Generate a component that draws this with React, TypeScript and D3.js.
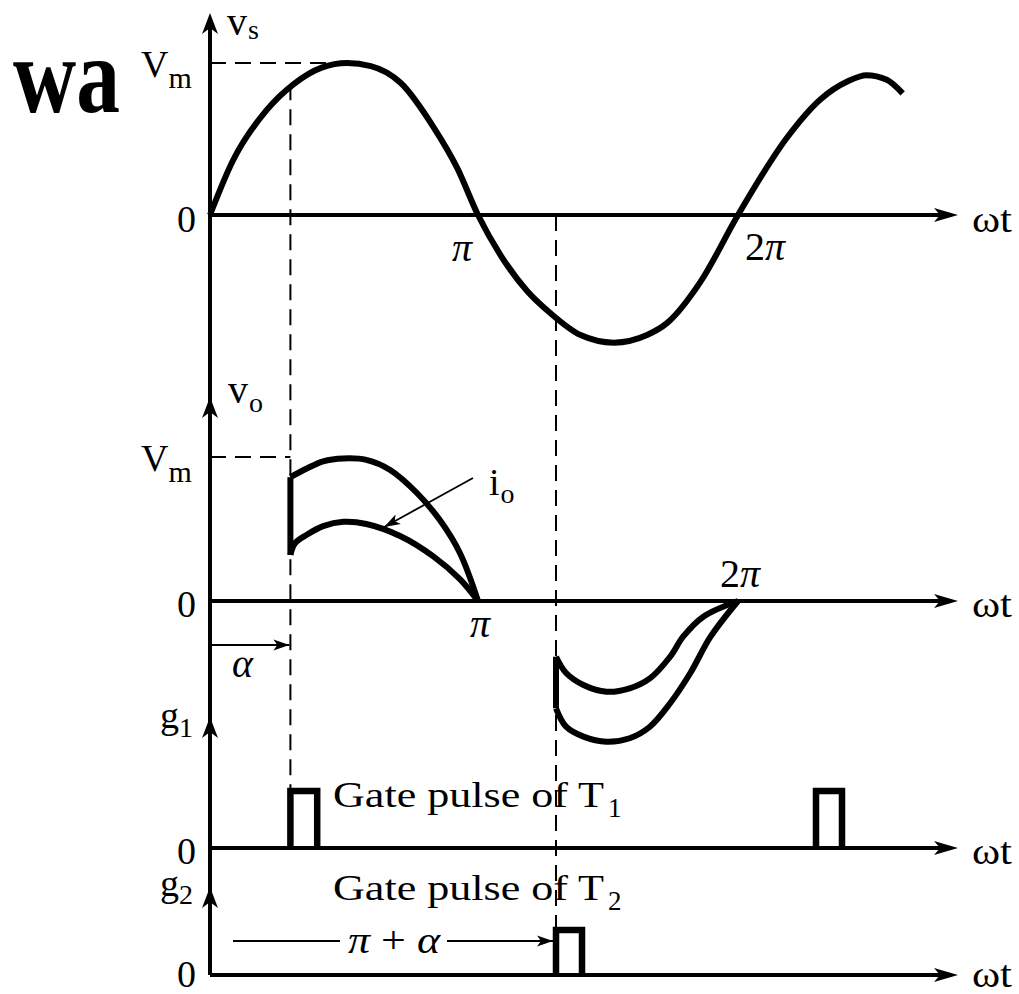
import React from "react";
import * as d3 from "d3";

const W = 1019;
const H = 994;

// firing angle α and gate pulse width, in degrees of ωt
const ALPHA = 54;
const PULSE_WIDTH = 18;

// supply voltage v_s (per unit of Vm) against ωt in degrees
const VS_ANGLE = [0, 15, 38, 56, 75, 92, 108, 128, 150, 166, 180, 196, 214, 230, 251, 274, 297, 311, 334, 360, 394, 417, 436, 449, 463, 474];
const VS_VALUE = [0, 0.35, 0.69, 0.86, 0.97, 1.0, 0.98, 0.87, 0.58, 0.31, 0, -0.27, -0.5, -0.645, -0.79, -0.84, -0.79, -0.71, -0.44, 0, 0.51, 0.76, 0.88, 0.92, 0.89, 0.8];

// output voltage v_o and load current i_o, positive half cycle
const VO_POS_ANGLE = [ALPHA, 65, 76, 89.5, 105, 121, 139, 154.5, 168, 180];
const VO_POS_VALUE = [0.86, 0.92, 0.97, 0.99, 0.98, 0.91, 0.75, 0.56, 0.33, 0];
const IO_POS_ANGLE = [ALPHA, 57, 65, 76, 89.5, 105, 128, 150, 168, 180];
const IO_POS_VALUE = [0.32, 0.4, 0.46, 0.52, 0.55, 0.535, 0.45, 0.31, 0.15, 0];

// output voltage v_o and load current i_o, negative half cycle
const VO_NEG_ANGLE = [180 + ALPHA, 241, 253, 269, 285, 299, 313, 327, 341, 360];
const VO_NEG_VALUE = [-0.745, -0.873, -0.942, -0.977, -0.953, -0.873, -0.71, -0.5, -0.248, 0];
const IO_NEG_ANGLE = [180 + ALPHA, 241, 253, 269, 285, 299, 313, 322, 336, 360];
const IO_NEG_VALUE = [-0.387, -0.5, -0.583, -0.63, -0.606, -0.537, -0.387, -0.248, -0.109, 0];

// gate firing instants
const G1_FIRING = [ALPHA, 360 + ALPHA];
const G2_FIRING = [180 + ALPHA];

// marked angles on the ωt axes
const TICK_ANGLE = [180, 360];
const TICK_LABEL = ["π", "2π"];

// point on i_o the label arrow points at
const IO_POINTER = [117, 0.5];

const SERIF = "'Liberation Serif', 'Times New Roman', serif";
const AXIS_X0 = 210;
const AXIS_END = 958;

const xS = d3.scaleLinear().domain([0, 180, 360]).range([210, 478, 738]);
const yTop = d3.scaleLinear().domain([0, 1]).range([215, 63]);
const yMid = d3.scaleLinear().domain([0, 1]).range([601, 457]);
const yG1 = d3.scaleLinear().domain([0, 1]).range([848, 791]);
const yG2 = d3.scaleLinear().domain([0, 1]).range([975, 930]);

const zip = (a: number[], b: number[]) => a.map((v, i) => [v, b[i]] as [number, number]);

function curvePath(
  angles: number[],
  values: number[],
  y: d3.ScaleLinear<number, number>,
  curve: d3.CurveFactory = d3.curveCatmullRom.alpha(0.5)
) {
  const line = d3
    .line<[number, number]>()
    .x((d) => xS(d[0]))
    .y((d) => y(d[1]))
    .curve(curve);
  return line(zip(angles, values)) || "";
}

function pulsePath(a: number, y: d3.ScaleLinear<number, number>) {
  const x0 = xS(a);
  const x1 = xS(a + PULSE_WIDTH);
  return `M${x0},${y(0)} V${y(1)} H${x1} V${y(0)}`;
}

const upHead = (x: number, y: number) =>
  `M${x},${y} L${x - 8},${y + 21} L${x},${y + 15} L${x + 8},${y + 21} Z`;
const rightHead = (x: number, y: number) =>
  `M${x},${y} L${x - 24},${y - 7} L${x - 18},${y} L${x - 24},${y + 7} Z`;

function SmallArrow({ x1, y1, x2, y2 }: { x1: number; y1: number; x2: number; y2: number }) {
  const deg = (Math.atan2(y2 - y1, x2 - x1) * 180) / Math.PI;
  return (
    <g>
      <line x1={x1} y1={y1} x2={x2} y2={y2} stroke="#000" strokeWidth={1.8} />
      <path d="M0,0 L-16,-5.5 L-12,0 L-16,5.5 Z" fill="#000" transform={`translate(${x2},${y2}) rotate(${deg})`} />
    </g>
  );
}

function Sub({ x, y, main, sub, size = 38, subSize = 28, subDx = 0, subDy = 10, len }: any) {
  return (
    <text x={x} y={y} fontFamily={SERIF} fontSize={size} fill="#000">
      <tspan textLength={len} lengthAdjust={len ? "spacingAndGlyphs" : undefined}>{main}</tspan>
      <tspan fontSize={subSize} dx={subDx} dy={subDy}>{sub}</tspan>
    </text>
  );
}

function HAxis({ y0, dy = 16 }: { y0: number; dy?: number }) {
  return (
    <g>
      <line x1={AXIS_X0} y1={y0} x2={AXIS_END - 10} y2={y0} stroke="#000" strokeWidth={4} />
      <path d={rightHead(AXIS_END, y0)} fill="#000" />
      <text x={972} y={y0 + dy} fontFamily={SERIF} fontSize={38} textLength={40} lengthAdjust="spacingAndGlyphs">ωt</text>
      <text x={196} y={y0 + dy} fontFamily={SERIF} fontSize={38} textAnchor="end">0</text>
    </g>
  );
}

export default function App() {
  const dash = { stroke: "#000", strokeWidth: 2, strokeDasharray: "16 9", fill: "none" };
  const curve = { stroke: "#000", strokeWidth: 6, fill: "none", strokeLinejoin: "round" as const };
  const xa = xS(ALPHA);
  const xpa = xS(180 + ALPHA);

  return (
    <svg width={W} height={H} style={{ position: "absolute", left: 0, top: 0, background: "#fff" }}>
      <rect width={W} height={H} fill="#fff" />

      {/* cropped heading, condensed */}
      <text transform="translate(13,112) scale(0.81,1)" fontFamily={SERIF} fontWeight="bold" fontSize={108}>wa</text>

      {/* common vertical axis with arrowheads for each trace */}
      <line x1={AXIS_X0} y1={20} x2={AXIS_X0} y2={yG2(0)} stroke="#000" strokeWidth={4} />
      <path d={upHead(AXIS_X0, 13)} fill="#000" />
      <path d={upHead(AXIS_X0, 397)} fill="#000" />
      <path d={upHead(AXIS_X0, 717)} fill="#000" />
      <path d={upHead(AXIS_X0, 887)} fill="#000" />

      {/* guide lines */}
      <line x1={AXIS_X0} y1={yTop(1)} x2={xS(82)} y2={yTop(1)} {...dash} />
      <line x1={AXIS_X0} y1={yMid(1)} x2={xa} y2={yMid(1)} {...dash} />
      <line x1={xa} y1={yTop(0.86)} x2={xa} y2={yG1(1)} {...dash} />
      <line x1={xpa} y1={yTop(0)} x2={xpa} y2={yG2(1)} {...dash} />

      {/* horizontal axes */}
      <HAxis y0={yTop(0)} dy={17} />
      <HAxis y0={yMid(0)} />
      <HAxis y0={yG1(0)} />
      <HAxis y0={yG2(0)} dy={12} />

      {/* supply voltage */}
      <path d={curvePath(VS_ANGLE, VS_VALUE, yTop, d3.curveMonotoneX)} {...curve} />

      {/* output voltage and current */}
      <path d={curvePath(VO_POS_ANGLE, VO_POS_VALUE, yMid)} {...curve} />
      <path d={curvePath(IO_POS_ANGLE, IO_POS_VALUE, yMid)} {...curve} />
      <line x1={xa} y1={yMid(IO_POS_VALUE[0])} x2={xa} y2={yMid(VO_POS_VALUE[0])} stroke="#000" strokeWidth={6} />
      <path d={curvePath(VO_NEG_ANGLE, VO_NEG_VALUE, yMid)} {...curve} />
      <path d={curvePath(IO_NEG_ANGLE, IO_NEG_VALUE, yMid)} {...curve} />
      <line x1={xpa} y1={yMid(IO_NEG_VALUE[0])} x2={xpa} y2={yMid(VO_NEG_VALUE[0])} stroke="#000" strokeWidth={6} />

      {/* gate pulses */}
      {G1_FIRING.map((a) => (
        <path key={`g1-${a}`} d={pulsePath(a, yG1)} stroke="#000" strokeWidth={6.5} fill="none" />
      ))}
      {G2_FIRING.map((a) => (
        <path key={`g2-${a}`} d={pulsePath(a, yG2)} stroke="#000" strokeWidth={6.5} fill="none" />
      ))}

      {/* axis names */}
      <Sub x={227} y={35} main="v" sub="s" size={40} subDx={1} subDy={4} />
      <Sub x={228} y={403} main="v" sub="o" size={40} subDx={1} subDy={9} />
      <Sub x={160} y={728} main="g" sub="1" subDx={0} subDy={9} />
      <Sub x={160} y={896} main="g" sub="2" subDx={0} subDy={8} />
      <Sub x={141} y={yTop(1) + 14} main="V" sub="m" subSize={30} subDx={0} subDy={11} />
      <Sub x={141} y={yMid(1) + 14} main="V" sub="m" subSize={30} subDx={0} subDy={11} />

      {/* angle marks */}
      <text x={xS(TICK_ANGLE[0]) - 16} y={yTop(0) + 46} fontFamily={SERIF} fontSize={40} fontStyle="italic" textAnchor="middle">{TICK_LABEL[0]}</text>
      <text x={xS(TICK_ANGLE[1]) + 7} y={yTop(0) + 45} fontFamily={SERIF} fontSize={40}>
        <tspan>2</tspan><tspan fontStyle="italic">π</tspan>
      </text>
      <text x={xS(TICK_ANGLE[0]) + 2} y={yMid(0) + 36} fontFamily={SERIF} fontSize={40} fontStyle="italic" textAnchor="middle">{TICK_LABEL[0]}</text>
      <text x={xS(TICK_ANGLE[1]) - 18} y={yMid(0) - 14} fontFamily={SERIF} fontSize={40}>
        <tspan>2</tspan><tspan fontStyle="italic">π</tspan>
      </text>

      {/* α delay */}
      <SmallArrow x1={AXIS_X0} y1={645} x2={xa - 1} y2={645} />
      <text x={232} y={677} fontFamily={SERIF} fontSize={40} fontStyle="italic">α</text>

      {/* i_o pointer */}
      <SmallArrow x1={473} y1={478} x2={xS(IO_POINTER[0])} y2={yMid(IO_POINTER[1]) - 2} />
      <Sub x={489} y={495} main="i" sub="o" subDx={1} subDy={8} />

      {/* gate pulse captions */}
      <text x={333} y={807} fontFamily={SERIF} fontSize={36} textLength={235} lengthAdjust="spacingAndGlyphs">Gate pulse of</text>
      <Sub x={578} y={807} main="T" sub="1" size={36} subSize={27} len={26} subDx={4} subDy={10} />
      <text x={333} y={900} fontFamily={SERIF} fontSize={36} textLength={235} lengthAdjust="spacingAndGlyphs">Gate pulse of</text>
      <Sub x={578} y={900} main="T" sub="2" size={36} subSize={27} len={26} subDx={4} subDy={10} />

      {/* π + α delay */}
      <line x1={233} y1={941} x2={340} y2={941} stroke="#000" strokeWidth={1.8} />
      <SmallArrow x1={447} y1={941} x2={xpa - 3} y2={941} />
      <text x={348} y={953} fontFamily={SERIF} fontSize={38} textLength={92} lengthAdjust="spacingAndGlyphs">
        <tspan fontStyle="italic">π</tspan>
        <tspan> + </tspan>
        <tspan fontStyle="italic">α</tspan>
      </text>
    </svg>
  );
}
